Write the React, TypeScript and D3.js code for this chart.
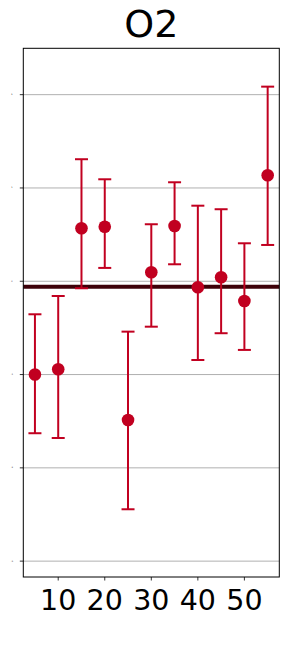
import React from "react";
import * as d3 from "d3";

const xs = [5, 10, 15, 20, 25, 30, 35, 40, 45, 50, 55];
const means = [-1.0, -0.943, 0.568, 0.585, -1.487, 0.096, 0.593, -0.064, 0.043, -0.211, 1.136];
const upper = [-0.354, -0.158, 1.308, 1.093, -0.54, 0.611, 1.061, 0.81, 0.772, 0.407, 2.086];
const lower = [-1.629, -1.68, -0.075, 0.143, -2.444, -0.487, 0.182, -0.844, -0.557, -0.736, 0.389];
const refLine = -0.058;
const xTicks = [10, 20, 30, 40, 50];
const yTicks = [-3, -2, -1, 0, 1, 2];
const title = "O2";

const W = 288;
const H = 668;
const left = 23.3;
const right = 279.3;
const top = 48.3;
const bottom = 577;

export default function App() {
  const x = d3.scaleLinear().domain([2.5, 57.5]).range([left, right]);
  const y = d3.scaleLinear().domain([-3.17, 2.497]).range([bottom, top]);
  const red = "#c10020";
  const cap = 6.5;
  return (
    <svg width={W} height={H} style={{ position: "absolute", left: 0, top: 0, background: "#fff" }}
      fontFamily="DejaVu Sans">
      <text x={(left + right) / 2} y={37} textAnchor="middle" fontSize={38} fill="#000">{title}</text>
      {yTicks.map((t) => (
        <g key={"g" + t}>
          <line x1={left} x2={right} y1={y(t)} y2={y(t)} stroke="#b0b0b0" strokeWidth={1} />
          <line x1={left - 3.5} x2={left} y1={y(t)} y2={y(t)} stroke="#000" strokeWidth={0.8} />
          <text x={12} y={y(t) + 0.5} fontSize={2} textAnchor="middle" fill="#000">{t}</text>
        </g>
      ))}
      <line x1={left} x2={right} y1={y(refLine)} y2={y(refLine)} stroke="#3d0008" strokeWidth={4} />
      {xs.map((v, i) => (
        <g key={"e" + i}>
          <line x1={x(v)} x2={x(v)} y1={y(upper[i])} y2={y(lower[i])} stroke={red} strokeWidth={2} />
          <line x1={x(v) - cap} x2={x(v) + cap} y1={y(upper[i])} y2={y(upper[i])} stroke={red} strokeWidth={2} />
          <line x1={x(v) - cap} x2={x(v) + cap} y1={y(lower[i])} y2={y(lower[i])} stroke={red} strokeWidth={2} />
          <circle cx={x(v)} cy={y(means[i])} r={6.3} fill={red} />
        </g>
      ))}
      <rect x={left} y={top} width={right - left} height={bottom - top} fill="none" stroke="#000" strokeWidth={1} />
      {xTicks.map((t) => (
        <g key={"x" + t}>
          <line x1={x(t)} x2={x(t)} y1={bottom} y2={bottom + 3.5} stroke="#000" strokeWidth={0.8} />
          <text x={x(t)} y={610} fontSize={28.5} textAnchor="middle" fill="#000">{t}</text>
        </g>
      ))}
    </svg>
  );
}
